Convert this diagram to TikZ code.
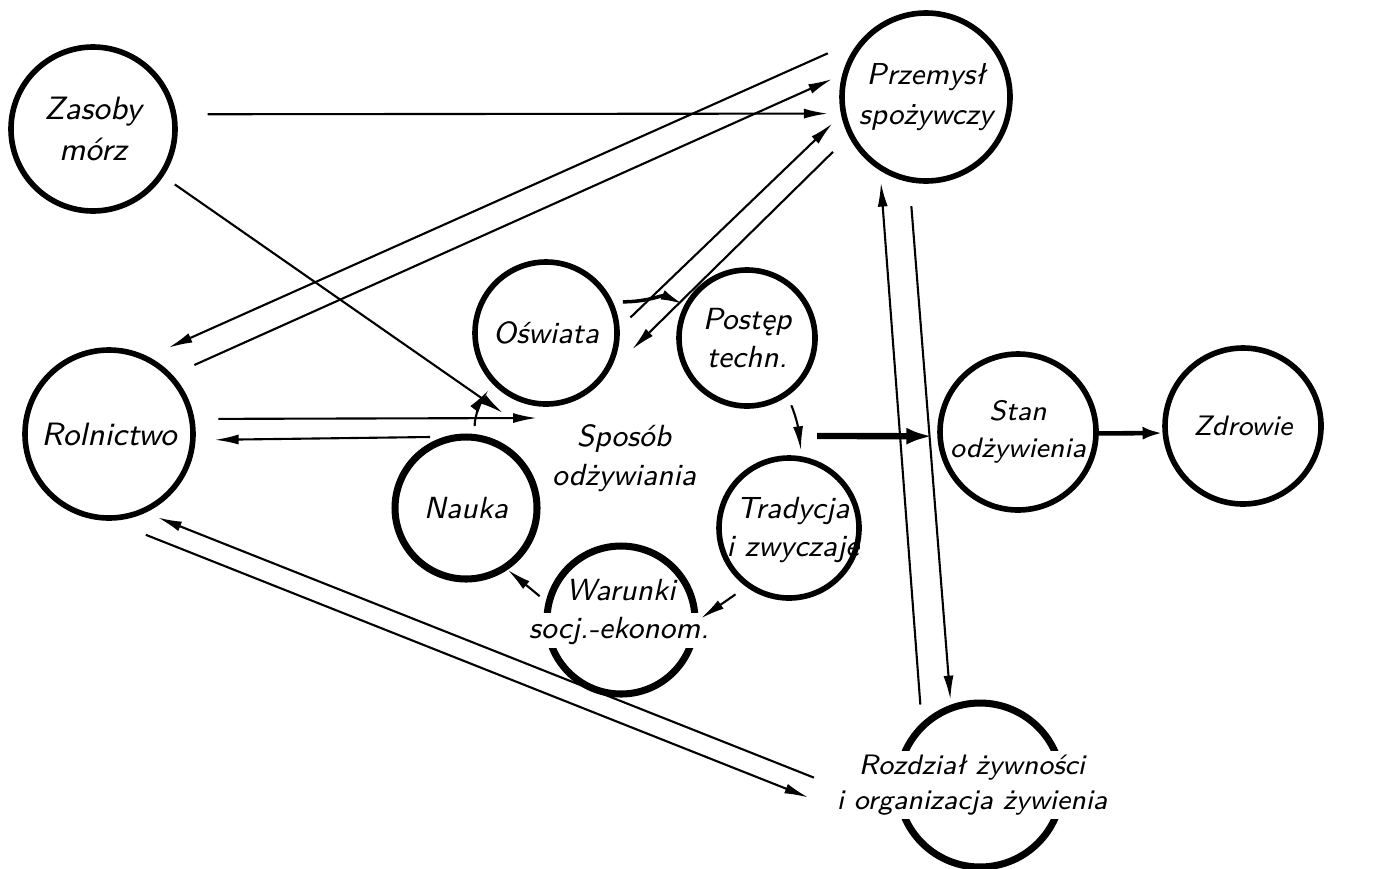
\documentclass[tikz,border=0pt]{standalone}
\usepackage{tikz}
\usetikzlibrary{arrows.meta,positioning}

\begin{document}
\begin{tikzpicture}[x=0.1mm,y=-0.1mm]
\tikzstyle{ring}=[draw=black,circle,line width=1.6pt,inner sep=0pt,align=center]
\tikzstyle{txt}=[inner sep=1pt,align=center]
\tikzstyle{bigfont}=[font=\sffamily\itshape\fontsize{9.2}{11.5}\selectfont]
\tikzstyle{midfont}=[font=\sffamily\itshape\fontsize{8.7}{11}\selectfont]
\tikzstyle{smallfont}=[font=\sffamily\itshape\fontsize{8}{10.5}\selectfont]
\tikzstyle{arrow}=[line width=0.6pt,-{Latex[length=2.4mm,width=1mm]}]
\tikzstyle{fat}=[line width=1.8pt,-{Latex[length=2.6mm,width=1.7mm]}]
\tikzstyle{fatopen}=[line width=1.3pt,-{Latex[open,length=2mm,width=1.3mm]}]

\useasboundingbox (0,0) rectangle (1377,868);

\node [ring,bigfont,minimum size=16.4mm] at (93,129) (zas) {Zasoby\\mórz};
\node [ring,minimum size=16.8mm] at (926,97) (prz) {};
\node [txt,font=\sffamily\itshape\fontsize{8.6}{11.5}\selectfont] at (926,97) (przt) {Przemysł\\spożywczy};
\node [ring,bigfont,minimum size=16.8mm] at (109,434) (rol) {Rolnictwo};
\node [ring,midfont,minimum size=14.2mm] at (546,333) (osw) {Oświata};
\node [ring,midfont,minimum size=13.6mm] at (747,338) (post) {Postęp\\techn.};
\node [ring,midfont,minimum size=14.2mm,line width=2pt] at (466,508) (nauka) {Nauka};
\node [ring,minimum size=14mm] at (789,528) (trad) {};
\node [txt,midfont] at (793,530) (tradt) {Tradycja\\i zwyczaje};
\node [ring,minimum size=14.8mm,line width=2pt] at (621,620) (war) {};
\node [txt,midfont,anchor=base] at (621,600) (war1) {Warunki};
\node [txt,midfont,anchor=base,fill=white] at (619,638) (war2) {socj.-ekonom.};
\node [ring,smallfont,minimum size=15.6mm] at (1018,432) (stan) {Stan\\odżywienia};
\node [ring,smallfont,minimum size=15.6mm] at (1243,426) (zdr) {Zdrowie};
\node [ring,minimum size=16.4mm,line width=2pt] at (980,785) (roz) {};
\node [txt,fill=white,font=\sffamily\itshape\fontsize{8}{10}\selectfont] at (972,785) (rozt) {Rozdział żywności\\i organizacja żywienia};
\node [txt,midfont] at (624,458) (spos) {Sposób\\odżywiania};

% free ends round the middle
\coordinate (s1) at (503,413);
\coordinate (s2) at (537,418);
\coordinate (s3) at (430,437);
\coordinate (s4) at (817,436);

\draw [arrow,shorten <=3.1mm,shorten >=1.3mm] (zas.10) -- (prz.191);
\draw [arrow,shorten <=1.4mm] (zas.-34) -- (s1);
\draw [arrow,shorten <=2.4mm] (rol.10) -- (s2);
\draw [arrow,shorten >=1.9mm] (s3) -- (rol.-4);
\draw [arrow,shorten <=3.8mm,shorten >=2.2mm] (prz.137) -- (rol.63);
\draw [arrow,shorten <=2.4mm,shorten >=1.1mm] (rol.43) -- (prz.165);
\draw [arrow,shorten <=1.5mm,shorten >=1.2mm] (osw.4) -- (prz.192);
\draw [arrow,shorten <=2.2mm,shorten >=3.4mm] (prz.207) -- (osw.-33);

\draw [arrow,line width=1pt,shorten <=1mm] (osw.25) .. controls +(35,0) and +(-22,-10) .. (post.152);
\draw [arrow,shorten <=1mm,shorten >=0.6mm] (post.-55) .. controls +(10,25) and +(-3,-25) .. (trad.80);
\draw [arrow,shorten <=1.3mm,shorten >=0.3mm] (trad.234) -- (war.0);
\draw [arrow,shorten <=0.8mm] (war.166) -- (nauka.-56);
\draw [arrow,shorten <=0.8mm,shorten >=0.7mm] (nauka.83) .. controls +(-1,-18) and +(-9,12) .. (osw.224);

\draw [arrow,shorten <=3.8mm,shorten >=2.6mm] (rol.-89) -- (rozt.189);
\draw [arrow,shorten <=2mm,shorten >=1.3mm] (rozt.west) -- (rol.-65);
\draw [arrow,shorten <=1.8mm,shorten >=1.2mm] (roz.133) -- (prz.238);
\draw [arrow,shorten <=2.4mm,shorten >=0.5mm] (prz.259) -- (roz.110);

\draw [fat,shorten >=0.5mm] (s4) -- (stan.183);
\draw [fatopen] (stan.-1) -- (zdr.185);
\end{tikzpicture}
\end{document}
